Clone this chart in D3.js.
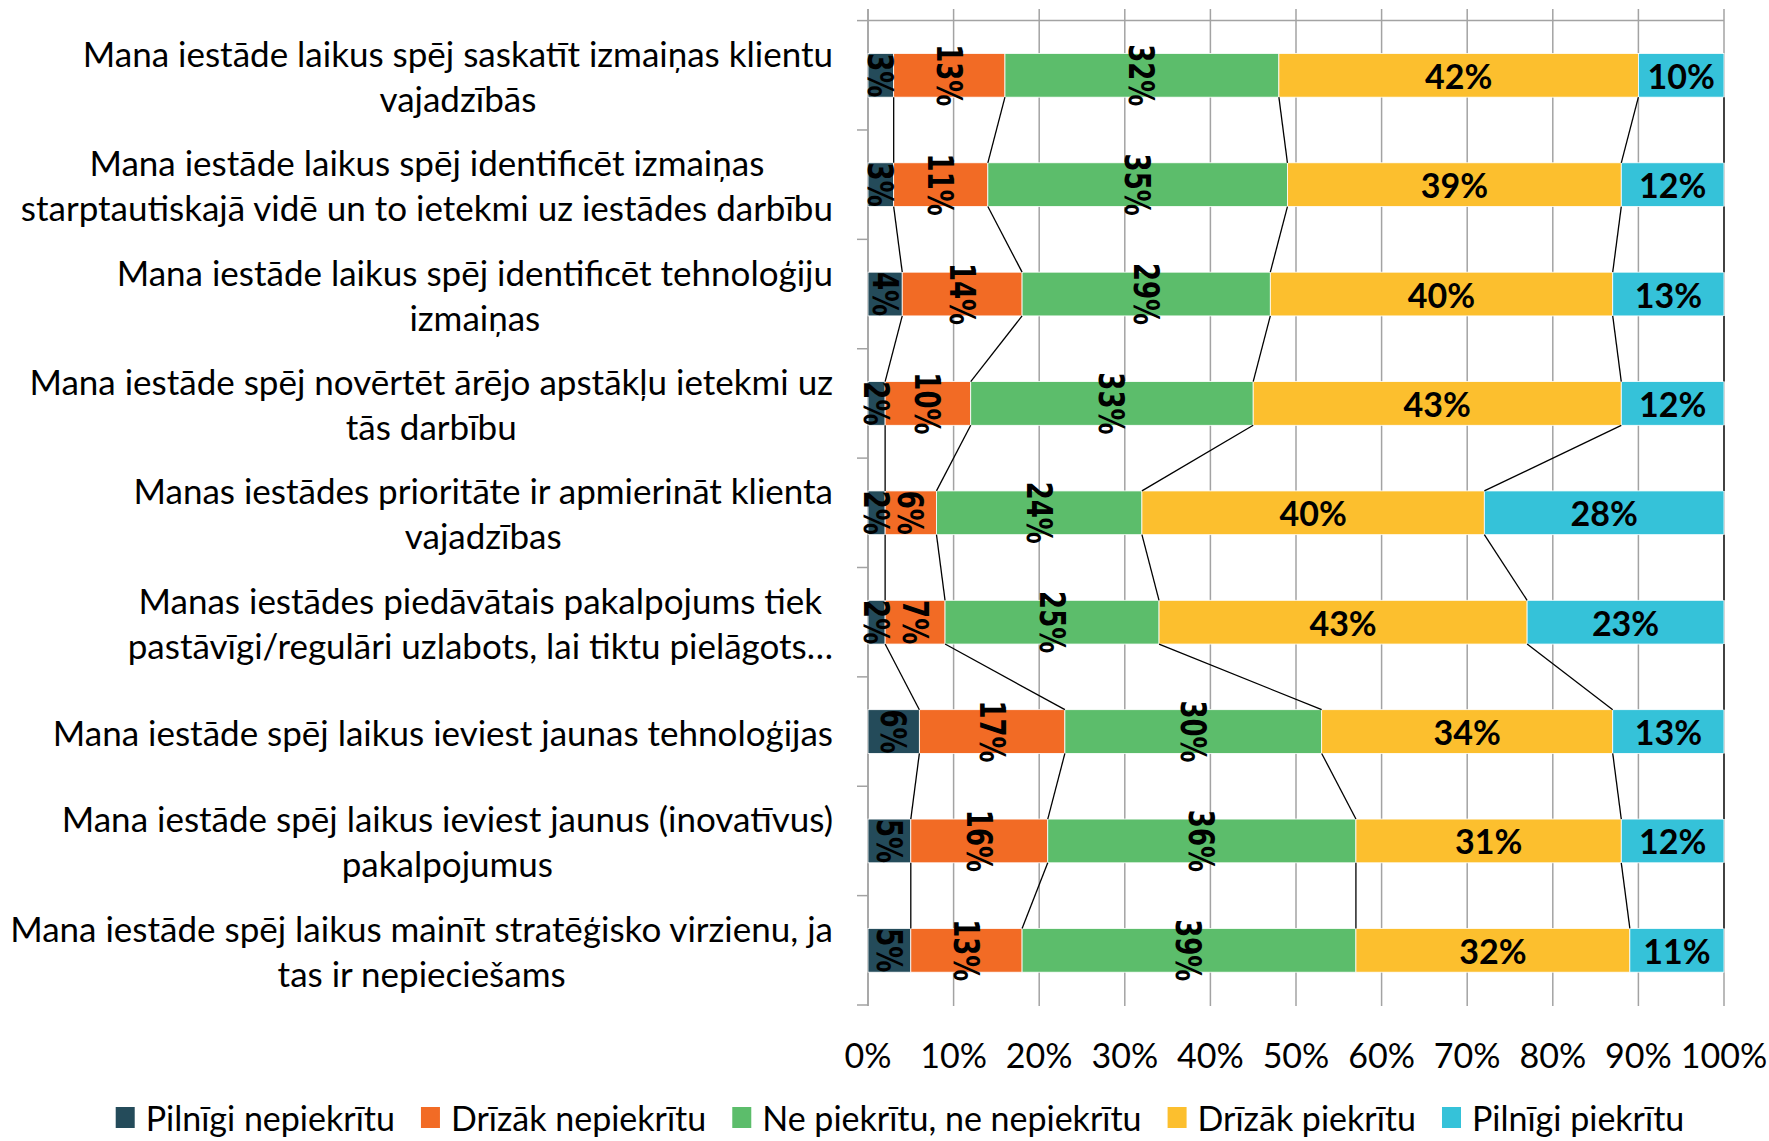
<!DOCTYPE html>
<html>
<head>
<meta charset="utf-8">
<script src="https://cdn.jsdelivr.net/npm/d3@7"></script>
<style>
  body { margin: 0; background: #fff; }
  text { font-family: Lato, "Open Sans", sans-serif; }
</style>
</head>
<body>
<div id="my_dataviz"></div>
<script>
// categories (line breaks as in the original chart)
const categories = [
  "Mana iestāde laikus spēj saskatīt izmaiņas klientu\nvajadzībās",
  "Mana iestāde laikus spēj identificēt izmaiņas\nstarptautiskajā vidē un to ietekmi uz iestādes darbību",
  "Mana iestāde laikus spēj identificēt tehnoloģiju\nizmaiņas",
  "Mana iestāde spēj novērtēt ārējo apstākļu ietekmi uz\ntās darbību",
  "Manas iestādes prioritāte ir apmierināt klienta\nvajadzības",
  "Manas iestādes piedāvātais pakalpojums tiek\npastāvīgi/regulāri uzlabots, lai tiktu pielāgots…",
  "Mana iestāde spēj laikus ieviest jaunas tehnoloģijas",
  "Mana iestāde spēj laikus ieviest jaunus (inovatīvus)\npakalpojumus",
  "Mana iestāde spēj laikus mainīt stratēģisko virzienu, ja\ntas ir nepieciešams"
];

const seriesNames = ["Pilnīgi nepiekrītu", "Drīzāk nepiekrītu", "Ne piekrītu, ne nepiekrītu", "Drīzāk piekrītu", "Pilnīgi piekrītu"];

// values in percent, one array per series
const pilnigiNepiekritu = [3, 3, 4, 2, 2, 2, 6, 5, 5];
const drizakNepiekritu  = [13, 11, 14, 10, 6, 7, 17, 16, 13];
const nePiekritu        = [32, 35, 29, 33, 24, 25, 30, 36, 39];
const drizakPiekritu    = [42, 39, 40, 43, 40, 43, 34, 31, 32];
const pilnigiPiekritu   = [10, 12, 13, 12, 28, 23, 13, 12, 11];

const xTicks = [0, 10, 20, 30, 40, 50, 60, 70, 80, 90, 100];

const colors = ["#244b5a", "#f26b25", "#5cbd6b", "#fcbf2e", "#35c2d9"];
const rotatedSeries = [true, true, true, false, false];

const width = 1769, height = 1141;

const svg = d3.select("#my_dataviz")
  .append("svg")
  .attr("width", width)
  .attr("height", height);

const allSeries = [pilnigiNepiekritu, drizakNepiekritu, nePiekritu, drizakPiekritu, pilnigiPiekritu];
const rows = categories.map((c, i) => {
  const r = { cat: c };
  seriesNames.forEach((s, k) => r[s] = allSeries[k][i]);
  return r;
});
const stacked = d3.stack().keys(seriesNames)(rows);

const x = d3.scaleLinear().domain([0, 100]).range([868, 1724]);
const y = d3.scaleBand().domain(categories).range([20.6, 1005])
  .paddingInner(0.6).paddingOuter(0.3);
const step = y.step();
const bw = y.bandwidth();

// gridlines
svg.append("g")
  .selectAll("line")
  .data(xTicks)
  .join("line")
  .attr("x1", d => x(d)).attr("x2", d => x(d))
  .attr("y1", 9).attr("y2", 1006)
  .attr("stroke", "#a3a3a3")
  .attr("stroke-width", 1.5);

// category axis line + ticks
const bounds = d3.range(categories.length + 1).map(i => 20.6 + i * step);
svg.append("line")
  .attr("x1", x(0)).attr("x2", x(0))
  .attr("y1", 9).attr("y2", 1006)
  .attr("stroke", "#a3a3a3").attr("stroke-width", 1.5);
svg.append("g")
  .selectAll("line")
  .data(bounds)
  .join("line")
  .attr("x1", x(0) - 11).attr("x2", x(0))
  .attr("y1", d => d).attr("y2", d => d)
  .attr("stroke", "#a3a3a3").attr("stroke-width", 1.5);
svg.append("line")
  .attr("x1", x(0)).attr("x2", x(100))
  .attr("y1", bounds[0]).attr("y2", bounds[0])
  .attr("stroke", "#a3a3a3").attr("stroke-width", 1.5);

// bars
const layers = svg.append("g")
  .selectAll("g")
  .data(stacked)
  .join("g")
  .attr("fill", (d, k) => colors[k]);

layers.selectAll("rect")
  .data(d => d)
  .join("rect")
  .attr("x", d => x(d[0]))
  .attr("y", d => y(d.data.cat))
  .attr("width", d => x(d[1]) - x(d[0]))
  .attr("height", bw)
  .attr("stroke", "#ffffff")
  .attr("stroke-width", 0.8);

// series lines
const seriesLines = [];
stacked.forEach(layer => {
  for (let i = 0; i < layer.length - 1; i++) {
    seriesLines.push({
      x1: x(layer[i][1]), y1: y(categories[i]) + bw,
      x2: x(layer[i + 1][1]), y2: y(categories[i + 1])
    });
  }
});
svg.append("g")
  .selectAll("line")
  .data(seriesLines)
  .join("line")
  .attr("x1", d => d.x1).attr("y1", d => d.y1)
  .attr("x2", d => d.x2).attr("y2", d => d.y2)
  .attr("stroke", "#000")
  .attr("stroke-width", 1.3);

// data labels
stacked.forEach((layer, k) => {
  svg.append("g")
    .selectAll("text")
    .data(layer)
    .join("text")
    .attr("transform", d => {
      const cx = x((d[0] + d[1]) / 2), cy = y(d.data.cat) + bw / 2;
      return rotatedSeries[k]
        ? `translate(${cx},${cy}) rotate(90) scale(1,1.35)`
        : `translate(${cx},${cy})`;
    })
    .attr("text-anchor", "middle")
    .attr("dominant-baseline", "central")
    .style("font-family", rotatedSeries[k] ? "'DejaVu Sans'" : "Lato")
    .style("font-weight", "bold")
    .style("font-size", rotatedSeries[k] ? "26px" : "34px")
    .attr("fill", "#000")
    .text(d => (d[1] - d[0]) + "%");
});

// category labels
const catG = svg.append("g");
categories.forEach(c => {
  const lines = c.split("\n");
  const cy = y(c) + bw / 2;
  const g = catG.append("g");
  const texts = g.selectAll("text")
    .data(lines)
    .join("text")
    .attr("y", (d, i) => cy + (i - (lines.length - 1) / 2) * 45)
    .attr("dominant-baseline", "central")
    .attr("text-anchor", "middle")
    .style("font-size", "35px")
    .attr("fill", "#000")
    .text(d => d);
  const maxW = d3.max(texts.nodes(), n => n.getComputedTextLength());
  texts.attr("x", 833 - maxW / 2);
});

// x axis tick labels
svg.append("g")
  .selectAll("text")
  .data(xTicks)
  .join("text")
  .attr("x", d => x(d))
  .attr("y", 1054)
  .attr("text-anchor", "middle")
  .attr("dominant-baseline", "central")
  .style("font-size", "34px")
  .text(d => d + "%");

// legend
const legend = svg.append("g");
let lx = 0;
seriesNames.forEach((s, k) => {
  legend.append("rect")
    .attr("x", lx).attr("y", 1107)
    .attr("width", 19).attr("height", 21)
    .attr("fill", colors[k]);
  const t = legend.append("text")
    .attr("x", lx + 30).attr("y", 1117)
    .attr("dominant-baseline", "central")
    .style("font-size", "34px")
    .text(s);
  lx += 30 + t.node().getComputedTextLength() + 26;
});
const legendW = lx - 26;
legend.attr("transform", `translate(${900 - legendW / 2},0)`);
</script>
</body>
</html>
